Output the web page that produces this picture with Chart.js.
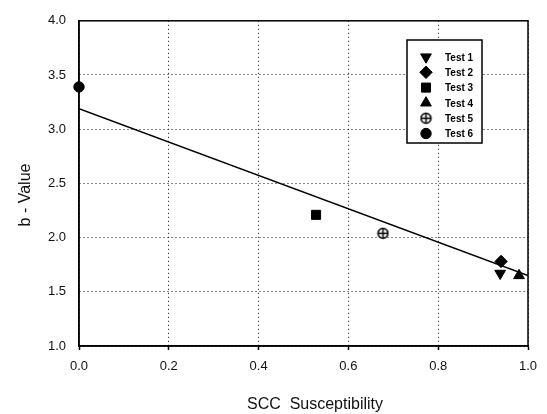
<!DOCTYPE html>
<html>
<head>
<meta charset="utf-8">
<script src="https://cdn.jsdelivr.net/npm/chart.js@4/dist/chart.umd.min.js"></script>
<style>
  html, body { margin: 0; padding: 0; background: #fff; }
  #wrap { width: 547px; height: 414px; position: relative; }
</style>
</head>
<body>
<div id="wrap"><canvas id="chart"></canvas></div>
<script>
// data
const testNames = ['Test 1', 'Test 2', 'Test 3', 'Test 4', 'Test 5', 'Test 6'];
const testX = [0.938, 0.94, 0.528, 0.98, 0.677, 0.0];
const testY = [1.67, 1.78, 2.21, 1.65, 2.04, 3.39];
const fitX = [0, 1];
const fitY = [3.19, 1.65];
const xTicks = [0, 0.2, 0.4, 0.6, 0.8, 1.0];
const yTicks = [1.0, 1.5, 2.0, 2.5, 3.0, 3.5, 4.0];

const FONT = '"Liberation Sans", Arial, sans-serif';

// circle with a plus inside (Test 5)
function circlePlus(r) {
  const c = document.createElement('canvas');
  const s = 2 * r + 3;
  c.width = s; c.height = s;
  const g = c.getContext('2d');
  const m = s / 2;
  g.strokeStyle = '#000';
  g.lineWidth = 1.5;
  g.beginPath(); g.arc(m, m, r, 0, Math.PI * 2); g.stroke();
  g.beginPath();
  g.moveTo(m - r, m); g.lineTo(m + r, m);
  g.moveTo(m, m - r); g.lineTo(m, m + r);
  g.stroke();
  return c;
}

const styles = [
  { pointStyle: 'triangle', rotation: 180, radius: 6.2 },
  { pointStyle: 'rectRot', rotation: 0, radius: 6.2 },
  { pointStyle: 'rect', rotation: 0, radius: 6.4 },
  { pointStyle: 'triangle', rotation: 0, radius: 6.2 },
  { pointStyle: circlePlus(5), rotation: 0, radius: 5 },
  { pointStyle: 'circle', rotation: 0, radius: 5.2 }
];

const datasets = testNames.map((name, i) => ({
  label: name,
  data: [{ x: testX[i], y: testY[i] }],
  pointStyle: styles[i].pointStyle,
  rotation: styles[i].rotation,
  pointRadius: styles[i].radius,
  backgroundColor: '#000',
  borderColor: '#000',
  borderWidth: 1,
  showLine: false,
  clip: false
}));

datasets.push({
  label: 'fit',
  type: 'line',
  data: fitX.map((x, i) => ({ x, y: fitY[i] })),
  borderColor: '#000',
  borderWidth: 1.5,
  pointRadius: 0,
  fill: false
});

// box around the plot, axis titles, legend box
const decor = {
  id: 'decor',
  beforeDatasetsDraw(chart) {
    const { ctx, chartArea: a } = chart;
    ctx.save();
    ctx.strokeStyle = '#000';
    ctx.lineWidth = 1.5;
    ctx.strokeRect(a.left, a.top, a.right - a.left, a.bottom - a.top);
    ctx.restore();
  },
  afterDraw(chart) {
    const { ctx } = chart;
    ctx.save();
    ctx.fillStyle = '#111';
    ctx.font = '16px ' + FONT;
    ctx.textAlign = 'center';
    ctx.textBaseline = 'middle';
    ctx.fillText('SCC  Susceptibility', 315, 405);
    ctx.save();
    ctx.translate(26, 195);
    ctx.rotate(-Math.PI / 2);
    ctx.fillText('b - Value', 0, 0);
    ctx.restore();

    // legend
    ctx.fillStyle = '#fff';
    ctx.fillRect(407, 40, 75, 103);
    ctx.strokeStyle = '#000';
    ctx.lineWidth = 1.5;
    ctx.strokeRect(407, 40, 75, 103);
    ctx.font = 'bold 10px ' + FONT;
    ctx.textAlign = 'left';
    testNames.forEach((name, i) => {
      const y = 57 + i * 15.3;
      ctx.fillStyle = '#000';
      ctx.strokeStyle = '#000';
      ctx.lineWidth = 1;
      Chart.helpers.drawPoint(ctx, {
        pointStyle: styles[i].pointStyle,
        rotation: styles[i].rotation,
        radius: styles[i].radius,
        borderWidth: 1
      }, 426, y);
      ctx.fillStyle = '#000';
      ctx.fillText(name, 445, y + 1);
    });
    ctx.restore();
  }
};

const gridStyle = { color: '#111', lineWidth: 1 };

new Chart(document.getElementById('chart'), {
  type: 'scatter',
  data: { datasets },
  plugins: [decor],
  options: {
    responsive: true,
    maintainAspectRatio: false,
    animation: false,
    events: [],
    layout: { padding: { top: 20, right: 19, left: 0, bottom: 0 } },
    plugins: { legend: { display: false }, tooltip: { enabled: false } },
    scales: {
      x: {
        type: 'linear', min: 0, max: 1,
        afterBuildTicks: s => { s.ticks = xTicks.map(v => ({ value: v })); },
        afterFit: s => { s.height = 68; },
        grid: { ...gridStyle, drawTicks: true, tickLength: 4, tickColor: '#000', tickWidth: 1.5, tickBorderDash: [] },
        border: { display: true, color: '#000', width: 1.5, dash: [1, 3] },
        ticks: {
          color: '#111', padding: 9,
          font: { family: FONT, size: 13 },
          callback: v => v.toFixed(1)
        }
      },
      y: {
        type: 'linear', min: 1, max: 4,
        afterBuildTicks: s => { s.ticks = yTicks.map(v => ({ value: v })); },
        afterFit: s => { s.width = 79; },
        grid: { ...gridStyle, drawTicks: false },
        border: { display: true, color: '#000', width: 1.5, dash: [1, 3] },
        ticks: {
          color: '#111', padding: 13,
          font: { family: FONT, size: 13 },
          callback: v => v.toFixed(1)
        }
      }
    }
  }
});
</script>
</body>
</html>
